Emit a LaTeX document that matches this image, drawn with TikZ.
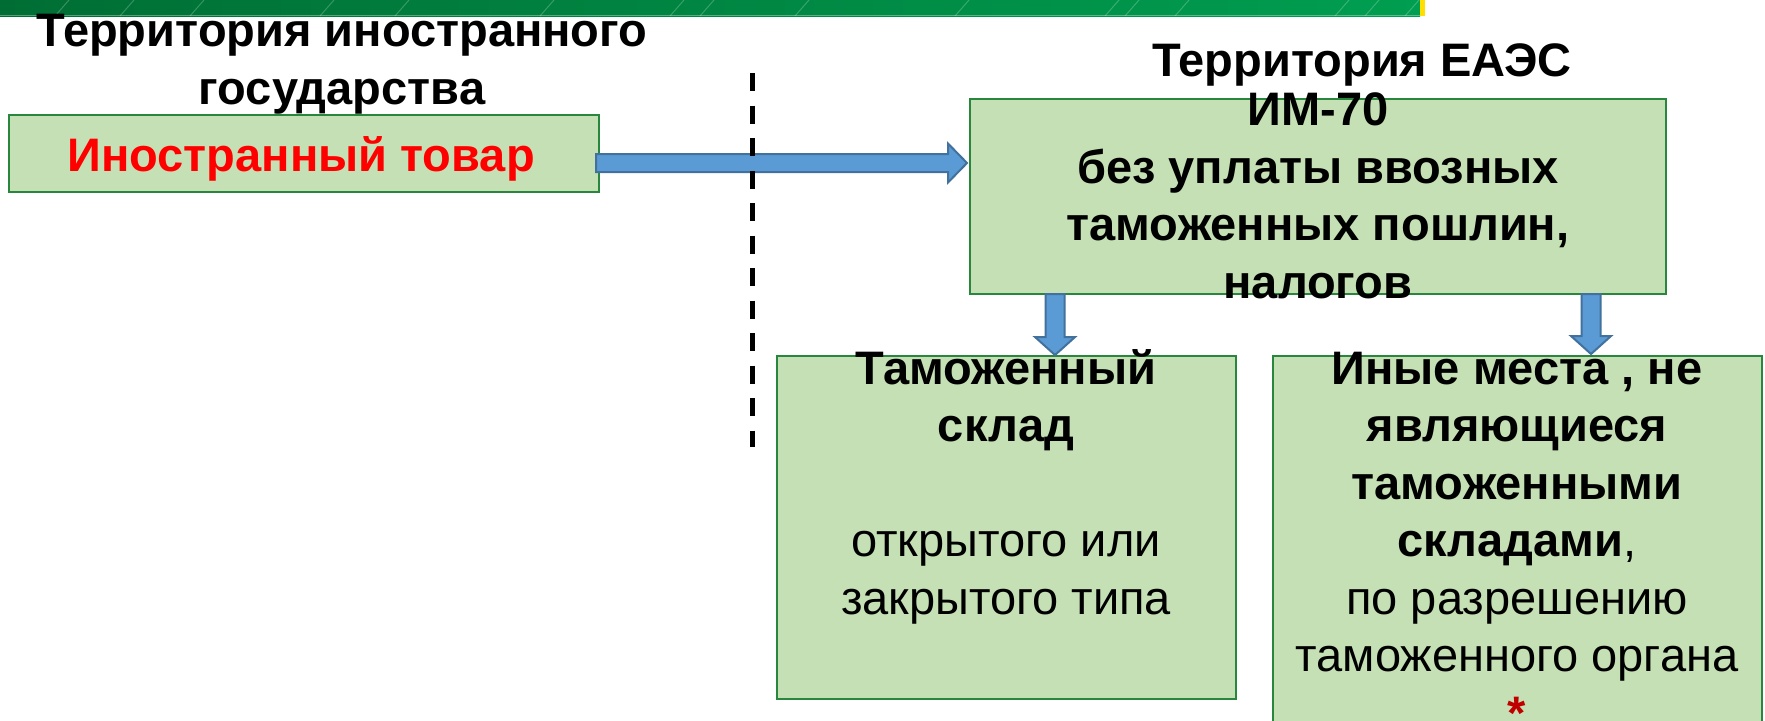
\documentclass[tikz,border=0pt]{standalone}
\usepackage{fontspec}
\setmainfont{Liberation Sans}
\usetikzlibrary{calc}
\definecolor{boxfill}{RGB}{197,224,180}
\definecolor{boxline}{RGB}{40,135,60}
\definecolor{arrfill}{RGB}{91,155,213}
\definecolor{arrline}{RGB}{65,113,156}
\definecolor{bannerL}{RGB}{0,110,52}
\definecolor{bannerR}{RGB}{0,158,80}
\definecolor{bannerY}{RGB}{255,222,0}
\definecolor{starred}{RGB}{192,0,0}
\newcommand\myharrow[2]{\draw[barrow] let \p1=(#1), \p2=(#2) in
  (\x1,\y1+4.5pt) -- (\x2-9.5pt,\y1+4.5pt) -- (\x2-9.5pt,\y1+9.75pt) -- (\x2,\y1)
  -- (\x2-9.5pt,\y1-9.75pt) -- (\x2-9.5pt,\y1-4.5pt) -- (\x1,\y1-4.5pt) -- cycle;}
\newcommand\myvarrow[2]{\draw[barrow] let \p1=(#1), \p2=(#2) in
  (\x1-4.75pt,\y1) -- (\x1-4.75pt,\y2+9pt) -- (\x1-10pt,\y2+9pt) -- (\x1,\y2)
  -- (\x1+10pt,\y2+9pt) -- (\x1+4.75pt,\y2+9pt) -- (\x1+4.75pt,\y1) -- cycle;}
\tikzset{
  gbox/.style={draw=boxline, line width=1pt, fill=boxfill, inner sep=0pt, outer sep=0pt},
  txt/.style={font=\fontsize{23.5}{28.75}\selectfont, align=center, inner sep=0pt, anchor=base},
  btxt/.style={txt, font=\fontsize{23.5}{28.75}\selectfont\bfseries},
  barrow/.style={fill=arrfill, draw=arrline, line width=1pt, line join=miter},
  border/.style={line width=2.5pt, dash pattern=on 9pt off 7.25pt},
}
\begin{document}
\begin{tikzpicture}[x=0.5pt, y=-0.5pt]
\useasboundingbox (0,0) rectangle (1765,720);
\fill[white] (0,0) rectangle (1765,720);
% banner
\shade[left color=bannerL, right color=bannerR] (0,0) rectangle (1420,16);
\fill[bannerY] (1420,0) rectangle (1425,16);
\draw[white, opacity=0.35, line width=0.5pt] (0,15.5) -- (1420,15.5);
\foreach \bx in {55,120,190,320,395,540,670,700,795,955,1105,1125,1175,1335,1365,1405}
  \draw[white, opacity=0.22, line width=0.5pt] (\bx,16) -- (\bx+14,0);
% boxes
\node[gbox, minimum width=295pt, minimum height=38.5pt] (foreign) at (304,153) {};
\node[gbox, minimum width=348pt, minimum height=97.5pt] (eaeu) at (1318,196.5) {};
\node[gbox, minimum width=229.5pt, minimum height=171.5pt] (wh) at (1006.5,527.5) {};
\node[gbox, minimum width=244.5pt, minimum height=184pt] (other) at (1517.5,540) {};
% arrows
\coordinate (h1) at ($(foreign.east)+(-3,10)$);
\coordinate (h2) at ($(eaeu.west |- h1)+(-3,0)$);
\myharrow{h1}{h2}
\coordinate (v1s) at ($(eaeu.south west)+(85,0)$);
\coordinate (v1e) at ($(wh.north -| v1s)+(0,-1)$);
\myvarrow{v1s}{v1e}
\coordinate (v2s) at ($(eaeu.south east)+(-75,0)$);
\coordinate (v2e) at ($(other.north -| v2s)+(0,-2)$);
\myvarrow{v2s}{v2e}
% texts (anchor = baseline of the last line)
\node[btxt] (tforeign) at (342,104) {Территория иностранного\\государства};
\node[btxt] (teaeu) at (1362,76) {Территория ЕАЭС};
\node[btxt, text=red] (tgoods) at (301,171) {Иностранный товар};
\node[btxt] (tim) at (1318,298) {ИМ-70\\без уплаты ввозных\\таможенных пошлин,\\налогов};
\node[txt] (twh) at (1006,614) {\textbf{Таможенный}\\\textbf{склад}\\~\\открытого или\\закрытого типа};
\node[txt] (tother) at (1517,729) {\textbf{Иные места , не}\\\textbf{являющиеся}\\\textbf{таможенными}\\\textbf{складами},\\по разрешению\\таможенного органа\\\textcolor{starred}{\textbf{*}}};
% border line
\coordinate (dtop) at (752,73);
\coordinate (dbot) at (752,447);
\draw[border] (dtop) -- (dbot);
\end{tikzpicture}
\end{document}
